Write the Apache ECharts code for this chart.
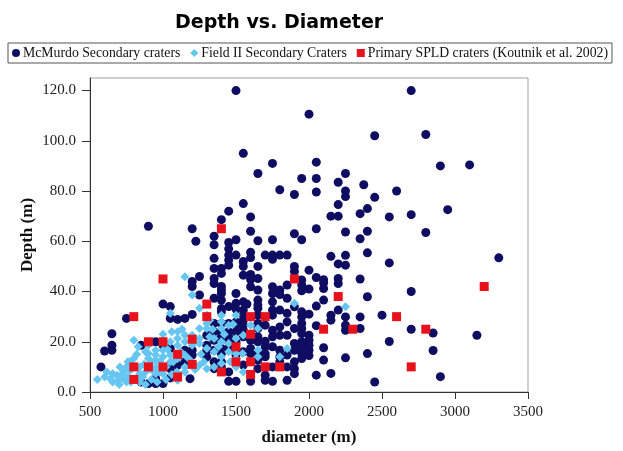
<!DOCTYPE html>
<html>
<head>
<meta charset="utf-8">
<script src="https://cdn.jsdelivr.net/npm/echarts@6/dist/echarts.min.js"></script>
<style>html,body{margin:0;padding:0;background:#fff;}#chart{width:623px;height:451px;}</style>
</head>
<body>
<div id="chart"></div>
<script>
const seriesNames = ['McMurdo Secondary craters', 'Field II Secondary Craters', 'Primary SPLD craters (Koutnik et al. 2002)'];
const xTicks = [500, 1000, 1500, 2000, 2500, 3000, 3500];
const yTicks = [0, 20, 40, 60, 80, 100, 120];

const mcmurdo = [
[1500,120],[2700,120],[2000,110.6],[2450,102],[2800,102.5],[1550,95],[1750,91],[2050,91.5],[2900,90],[3100,90.4],
[1650,87],[2250,87],[1950,85],[2050,85],[2200,83.5],[2375,82.5],[1800,80.5],[1900,78.6],[2050,79.6],[2250,80],
[2250,77.8],[2450,77.5],[2600,80],[1550,75],[2200,74.6],[2400,73],[2950,72.6],[1450,72],[1400,68.6],[1600,69.7],
[2150,70],[2200,70],[2350,71],[2550,69.7],[2700,70.6],[900,66],[1200,65],[2050,65],[1600,64],[1900,63],
[2250,63.7],[2400,64],[2800,63.5],[1350,62],[2350,61],[1225,60],[1350,58.6],[1450,59.5],[1500,60.6],[1650,60.2],
[1750,60.6],[1950,60.6],
[1450,57],[1600,55.6],[1600,53.5],[1700,54.5],[1750,54.5],[1750,52.8],[1800,54.5],[1850,54.5],[1450,54.5],[1450,52.5],
[1350,53.2],[1500,54.5],[1550,52],[1550,50],[1650,50],[1900,50],[1900,48],[2000,48.5],[2150,54],[2250,54.4],
[2400,55.4],[2200,51],[2250,50.5],[2550,51.4],[3300,53.4],[1350,49.2],[1400,49.2],[1400,47.2],[1450,50.5],[1250,46],
[1200,44],[1200,42],[1350,45.2],[1350,43.2],[1400,42],[1400,40.6],[1600,46.8],[1600,44.8],[1550,46.5],[1650,45.2],
[2050,45.6],[2100,44.7],[2100,43.5],[2200,45.2],[2200,43.2],[2350,45],[1500,39.2],[1600,41.9],[1650,40.6],[1750,41.9],
[1750,39.2],[1800,40.6],[1800,38.8],[1850,42.6],[1950,44.6],[1950,42.6],[1950,40.3],[2000,41],[2100,41.2],[2700,40],
[1000,35],[1050,34],[1250,38.6],[1350,37.3],[1400,36.6],[1450,34],[1500,35.3],[1850,37.3],[2100,36.6],[2400,37.9],
[1550,35.9],[1650,36.6],[1650,34.6],[1750,35.9],[1900,33.9],[2050,34.2],[2200,32.6],[1950,31.9],[1950,29.9],[1550,32.6],
[1550,30.6],[1550,28.6],[1650,33.3],[1650,30.6],[1750,32.6],[1750,30.6],[1800,32.6],[1850,31.3],[2000,31],[2150,30.6],
[2150,28.6],[2250,29.9],[2350,29.9],[2500,30.6],[1050,29.3],[1100,28.9],[1150,29.3],[1200,30.9],[1400,31.9],[750,29.3],
[1400,39.2],[1400,33.2],[1500,33],[1575,35],
[1500,27.9],[1550,26.6],[1550,24.6],[1650,27.3],[1650,25.3],[1700,26.6],[1750,24.6],[1800,25.9],[1850,27.9],[1900,25.3],
[1950,27.3],[1950,25.3],[1950,23.3],[2050,26.4],[2000,22.6],[2250,26.6],[2250,24.6],[2350,25.3],[2700,25],[2850,23.5],
[3150,22.6],[1350,27.3],[1400,27.3],[1450,27.3],[1500,26.6],[1350,24],[1400,24],[1450,24],[1500,24],[1300,22.6],
[1350,20.6],[1400,22],[1450,22],[650,23.2],
[1550,22],[1600,20.6],[1650,22],[1650,20],[1700,20.2],[1700,18],[1750,22],[1800,22.6],[1850,22.6],[1900,19.3],
[1950,20],[1950,18],[2000,20.6],[2000,18.6],[2000,16.6],[2100,17.6],[1600,17.3],[1600,15.3],[1750,18],[1800,16.6],
[1500,16.6],[1500,14.7],[1550,16],[1650,15.3],[1700,15.3],[1900,16.6],[1950,15.3],[1850,14.7],[2000,14.5],[2100,12.7],
[2250,13.6],[2400,15.3],[1700,14],[1650,12.7],[1800,14],[1800,12],[1900,12],[1850,10],[1900,9.3],[1900,7.3],
[1550,10.7],[1650,9.3],[1750,10],[1500,4.3],[1600,4.3],[1750,4.3],[1850,4.7],[1700,6.7],[1700,4.7],[2050,6.7],
[2150,7.4],[2450,4],[2550,20.1],[2850,16.5],[2900,6.1],[1950,13.3],
[650,18.6],[650,16.6],[600,16.3],[575,10],[850,18.6],[950,20],[1000,18.6],[1050,17.3],[1150,16.6],[1200,16.6],
[1200,14.7],[1300,16.6],[1350,16.6],[1400,15.3],[1450,20],[1450,17.3],[1500,20],[1300,14],[1350,12],[1400,12],
[1150,12],[1050,9.3],[1100,10.7],[1100,6.7],[850,4],[900,3.4],[950,3.4],[1000,3.4],[950,5.3],[1050,5.6],
[1350,9.3],[1400,10],[1450,8],[1450,4.3],[1400,17.3],[1300,18.6],[1185,5.3]
];

const fieldII = [
[550,5],[600,6],[640,5.3],[655,4],[685,6.7],[695,4.7],[730,5.3],[750,4],[730,8],[775,8.7],
[705,10],[775,12],[800,13.3],[840,10],[840,7.3],[840,4],[800,20.6],[900,15.3],[900,13.3],[950,16.6],
[950,14.7],[950,12.7],[950,10],[950,7.3],[900,18.6],[1000,16.6],[1000,14],[1000,7.3],[1050,20],[1050,14.7],
[1050,12],[1100,24],[1100,21.3],[1100,18.6],[1100,13.3],[1050,31.3],[1150,20],[1150,22.6],[1150,14.7],[1150,10],
[1150,8],[1150,45.9],[1200,38.6],[1200,22.6],[1200,20],[1200,18.6],[1250,33.3],[1250,25.3],[1250,21.3],[1250,19.3],
[1300,27.3],[1300,25.3],[1200,11.3],[1250,10.7],[1300,9.3],[1350,10],[1400,11.3],[1300,30.6],[1320,28.6],[1400,30.6],
[1500,30.6],[1400,28],[1450,26.6],[1400,25.3],[1350,21.3],[1400,20],[1450,19.3],[1500,21.3],[1300,17.3],[1350,16],
[1400,14],[1450,16],[1500,15.3],[1500,13.3],[1500,10],[1095,8],[1100,4.7],[615,8],[655,7.3],[750,10],
[785,9.3],[1900,35.3],[2250,33.9],[1600,26.6],[1650,25.3],[1550,22.6],[1545,15.3],[1650,14],[1800,14],[1850,17.3],
[1550,8],[1650,16.7],
[700,3],[720,7],[760,6],[780,4],[820,5],[860,6],[880,3],[880,8],[920,5],[920,9],
[960,4],[980,8],[1020,5],[1020,10],[1060,7],[870,11],[920,12],[980,12],[1030,17],[1070,12],
[760,12],[820,15],[880,16],[1120,16],[1180,13],[1220,9],[1260,15],[1280,12],[1320,22],[1340,25],
[1380,18],[1420,23],[1460,12],[1480,27],[1130,25],[1000,23],[1060,24],[830,18]
];

const primary = [
[800,30],[1000,45],[900,20],[1000,20],[800,10],[900,10],[1000,10],[800,5],[1100,15],[1100,6],
[1200,21],[1200,11],[1300,35],[1300,30],[1400,8],[1500,18],[1500,12],[1600,30],[1600,23],[1600,12],
[1600,7],[1700,30],[1700,10],[1800,10],[1900,45],[1400,65],[2200,38],[2100,25],[2300,25],[2600,30],
[2800,25],[2700,10],[3200,42]
];

const chart = echarts.init(document.getElementById('chart'), null, {renderer: 'canvas'});
const serif = 'Liberation Serif, Times New Roman, serif';
chart.setOption({
  backgroundColor: '#ffffff',
  animation: false,
  title: {
    text: 'Depth vs. Diameter',
    left: 170, top: 9,
    textStyle: {fontFamily: 'DejaVu Sans', fontWeight: 'bold', fontSize: 19, color: '#000'}
  },
  legend: {
    left: 8, top: 43,
    itemWidth: 8, itemHeight: 8, itemGap: 10,
    padding: [3, 4, 3, 4],
    borderColor: '#555', borderWidth: 1,
    textStyle: {fontFamily: serif, fontSize: 13.75, color: '#111', padding: [0, 0, 0, -2]},
    data: [
      {name: seriesNames[0], icon: 'circle'},
      {name: seriesNames[1], icon: 'diamond'},
      {name: seriesNames[2], icon: 'rect'}
    ]
  },
  grid: {left: 90, right: 95, top: 78, bottom: 59, show: true, borderColor: '#a0a0a0', borderWidth: 1, backgroundColor: '#fff'},
  xAxis: {
    type: 'value', min: 500, max: 3500, interval: 500,
    name: 'diameter (m)', nameLocation: 'middle', nameGap: 37,
    nameTextStyle: {fontFamily: serif, fontWeight: 'bold', fontSize: 17, color: '#111'},
    axisLine: {show: true, onZero: false, lineStyle: {color: '#333'}},
    axisTick: {show: true, length: 7, lineStyle: {color: '#333'}, customValues: xTicks},
    axisLabel: {fontFamily: serif, fontSize: 15, color: '#222', margin: 13, customValues: xTicks,
      formatter: v => String(v)},
    splitLine: {show: false}
  },
  yAxis: {
    type: 'value', min: 0, max: 125, interval: 20,
    name: 'Depth (m)', nameLocation: 'middle', nameGap: 62, nameRotate: 90, nameMoveOverlap: false,
    nameTextStyle: {fontFamily: serif, fontWeight: 'bold', fontSize: 17, color: '#111', verticalAlign: 'middle'},
    axisLine: {show: true, onZero: false, lineStyle: {color: '#333'}},
    axisTick: {show: true, length: 8, lineStyle: {color: '#333'}, customValues: yTicks},
    axisLabel: {fontFamily: serif, fontSize: 15, color: '#222', margin: 14, customValues: yTicks,
      formatter: v => Number(v).toFixed(1)},
    splitLine: {show: false}
  },
  series: [
    {name: seriesNames[0], type: 'scatter', symbol: 'circle', symbolSize: 9, data: mcmurdo,
     itemStyle: {color: '#0f0d62', opacity: 1}},
    {name: seriesNames[1], type: 'scatter', symbol: 'diamond', symbolSize: 9, data: fieldII,
     itemStyle: {color: '#66c6f2', opacity: 1}},
    {name: seriesNames[2], type: 'scatter', symbol: 'rect', symbolSize: 9, data: primary,
     itemStyle: {color: '#e8121c', opacity: 1}}
  ]
});
</script>
</body>
</html>
